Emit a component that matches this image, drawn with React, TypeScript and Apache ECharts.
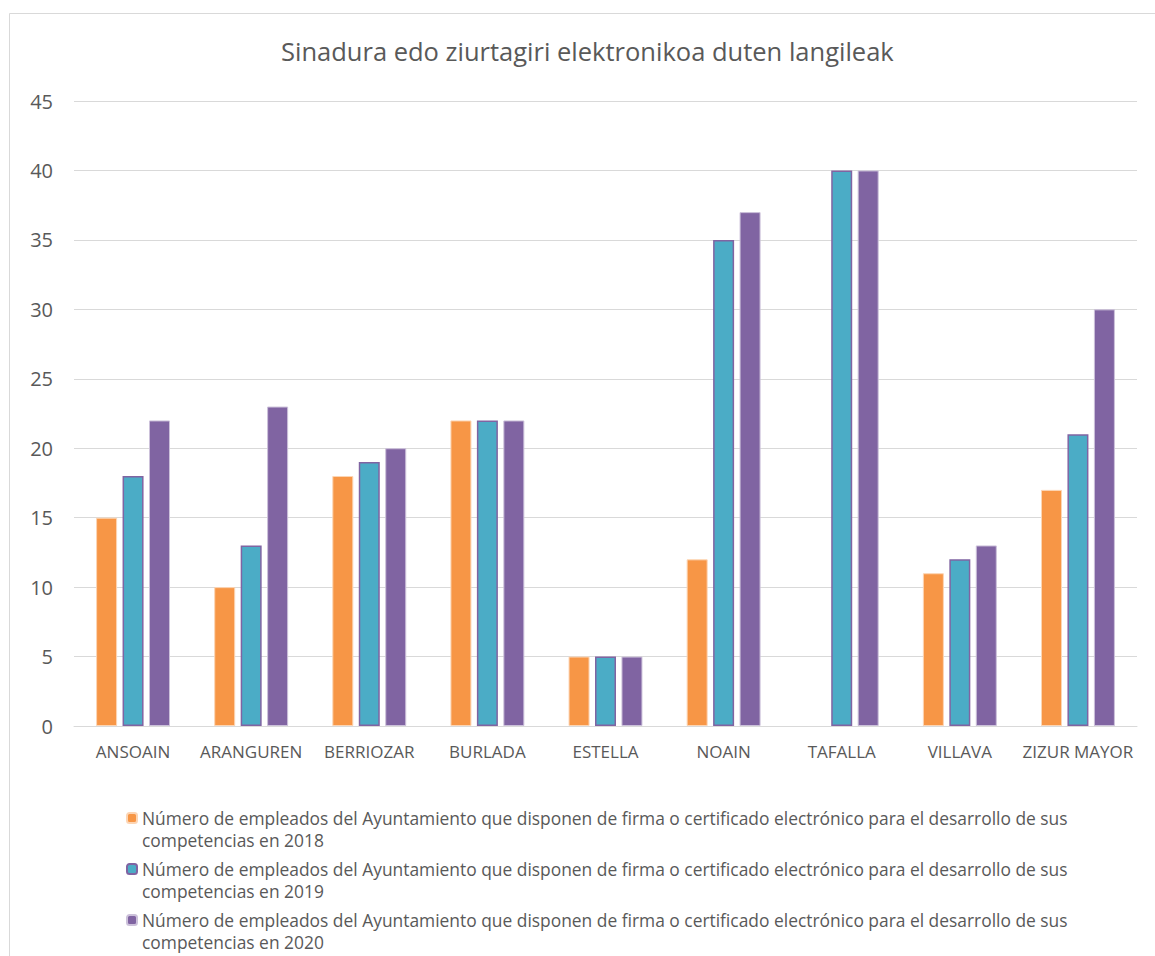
import React, { useEffect, useRef } from "react";
import * as echarts from "echarts";

const categories = ["ANSOAIN", "ARANGUREN", "BERRIOZAR", "BURLADA", "ESTELLA", "NOAIN", "TAFALLA", "VILLAVA", "ZIZUR MAYOR"];
const values2018 = [15, 10, 18, 22, 5, 12, null, 11, 17];
const values2019 = [18, 13, 19, 22, 5, 35, 40, 12, 21];
const values2020 = [22, 23, 20, 22, 5, 37, 40, 13, 30];
const seriesNames = [
  "Número de empleados del Ayuntamiento que disponen de firma o certificado electrónico para el desarrollo de sus competencias en 2018",
  "Número de empleados del Ayuntamiento que disponen de firma o certificado electrónico para el desarrollo de sus competencias en 2019",
  "Número de empleados del Ayuntamiento que disponen de firma o certificado electrónico para el desarrollo de sus competencias en 2020",
];
const titleText = "Sinadura edo ziurtagiri elektronikoa duten langileak";

const FONT = "Open Sans";
const GREY = "#595959";

export default function App() {
  const ref = useRef<HTMLDivElement>(null);
  useEffect(() => {
    if (!ref.current) return;
    const chart = echarts.init(ref.current, undefined, { renderer: "svg" });
    const barW = 21;
    chart.setOption({
      animation: false,
      backgroundColor: "#ffffff",
      textStyle: { fontFamily: FONT },
      graphic: [
        {
          type: "rect",
          shape: { x: 9.5, y: 13.5, width: 1300, height: 1100 },
          style: { fill: "none", stroke: "#d9d9d9", lineWidth: 1 },
          silent: true,
          z: -1,
        },
      ],
      title: {
        text: titleText,
        left: 276,
        top: 33,
        textStyle: { fontFamily: FONT, fontSize: 25.5, fontWeight: "normal", color: GREY },
      },
      grid: { left: 74, right: 18, top: 101, height: 625 },
      xAxis: {
        type: "category",
        data: categories,
        axisLine: { lineStyle: { color: "#d9d9d9", width: 1 } },
        axisTick: { show: false },
        axisLabel: { color: GREY, fontSize: 17, fontFamily: FONT, margin: 17, interval: 0 },
      },
      yAxis: {
        type: "value",
        min: 0,
        max: 45,
        interval: 5,
        axisLine: { show: false },
        axisTick: { show: false },
        axisLabel: { color: GREY, fontSize: 20, fontFamily: FONT, margin: 21 },
        splitLine: { lineStyle: { color: "#d9d9d9", width: 1 } },
      },
      legend: {
        orient: "vertical",
        left: 121,
        top: 780,
        height: 300,
        itemWidth: 10,
        itemHeight: 10,
        itemGap: -15,
        formatter: (name: string) => "\n" + name.replace(" competencias", "\ncompetencias"),
        textStyle: {
          color: GREY,
          fontSize: 17.4,
          fontFamily: FONT,
          lineHeight: 22,
        },
        data: seriesNames,
      },
      series: [
        {
          name: seriesNames[0],
          type: "bar",
          data: values2018,
          barWidth: barW,
          barGap: "26%",
          itemStyle: { color: "#f79646", borderColor: "#fcd5b4", borderWidth: 1 },
        },
        {
          name: seriesNames[1],
          type: "bar",
          data: values2019,
          barWidth: barW,
          barGap: "26%",
          itemStyle: { color: "#4bacc6", borderColor: "#8064a2", borderWidth: 1.5 },
        },
        {
          name: seriesNames[2],
          type: "bar",
          data: values2020,
          barWidth: barW,
          barGap: "26%",
          itemStyle: { color: "#8064a2", borderColor: "#ccc1da", borderWidth: 1 },
        },
      ],
    });
    return () => chart.dispose();
  }, []);
  return (
    <div
      ref={ref}
      style={{ position: "fixed", left: 0, top: 0, width: 1155, height: 956 }}
    />
  );
}
